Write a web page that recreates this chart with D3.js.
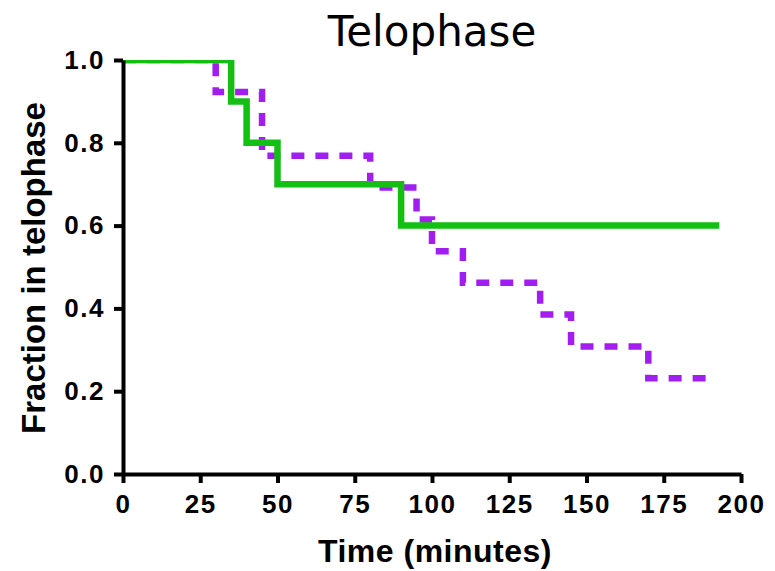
<!DOCTYPE html>
<html>
<head>
<meta charset="utf-8">
<script src="https://cdn.jsdelivr.net/npm/d3@7"></script>
<style>
  body { margin: 0; background: #fff; }
  .axis path, .axis line { stroke: #000; stroke-width: 4; }
  .axis text { font-family: "Liberation Sans", Arial, sans-serif; font-weight: bold; font-size: 26px; letter-spacing: 1.5px; fill: #000; }
  .axis-label { font-family: "Liberation Sans", Arial, sans-serif; font-weight: bold; fill: #000; }
</style>
</head>
<body>
<div id="root"></div>
<script>
"use strict";

// Kaplan-Meier style step data
const greenTimes = [0, 35, 40, 50, 90, 193];
const greenFrac = [1.0, 0.9, 0.8, 0.7, 0.6, 0.6];

const purpleTimes = [0, 30, 45, 80, 95, 100, 110, 135, 145, 170, 191.5];
const purpleFrac = [1.0, 0.923, 0.769, 0.692, 0.615, 0.538, 0.462, 0.385, 0.308, 0.231, 0.231];

const xTicks = [0, 25, 50, 75, 100, 125, 150, 175, 200];
const yTicks = [0.0, 0.2, 0.4, 0.6, 0.8, 1.0];

const width = 775;
const height = 571;
const margin = { top: 60, right: 34, bottom: 97, left: 123 };

let drawWidth = width - margin.left - margin.right;
let drawHeight = height - margin.top - margin.bottom;

let svg = d3.select('#root')
    .append('svg')
    .attr('width', width)
    .attr('height', height);

let xScale = d3.scaleLinear().domain([0, 200]).range([0, drawWidth]);
let yScale = d3.scaleLinear().domain([0, 1]).range([drawHeight, 0]);

let chartG = svg.append('g')
    .attr('transform', `translate(${margin.left},${margin.top})`);

// clip lines to plot area (top line only shows half of its width)
svg.append('defs').append('clipPath')
    .attr('id', 'plotClip')
    .append('rect')
    .attr('x', 0).attr('y', 0)
    .attr('width', drawWidth + 20).attr('height', drawHeight);

let line = d3.line()
    .x((d) => xScale(d[0]))
    .y((d) => yScale(d[1]))
    .curve(d3.curveStepAfter);

let linesG = chartG.append('g').attr('clip-path', 'url(#plotClip)');

linesG.append('path')
    .datum(purpleTimes.map((t, i) => [t, purpleFrac[i]]))
    .attr('d', line)
    .attr('fill', 'none')
    .attr('stroke', '#a01ff0')
    .attr('stroke-width', 6.5)
    .attr('stroke-dasharray', '13,11');

linesG.append('path')
    .datum(greenTimes.map((t, i) => [t, greenFrac[i]]))
    .attr('d', line)
    .attr('fill', 'none')
    .attr('stroke', '#14bf14')
    .attr('stroke-width', 6.5);

// axes
let xAxis = d3.axisBottom(xScale).tickValues(xTicks).tickSize(9).tickSizeOuter(0).tickPadding(12);
let yAxis = d3.axisLeft(yScale).tickValues(yTicks).tickFormat(d3.format('.1f')).tickSize(9).tickSizeOuter(0).tickPadding(9);

chartG.append('g')
    .attr('class', 'axis')
    .attr('transform', `translate(0,${drawHeight})`)
    .call(xAxis);

chartG.append('g')
    .attr('class', 'axis')
    .call(yAxis);

// title and labels
svg.append('text')
    .attr('x', 432)
    .attr('y', 46)
    .attr('text-anchor', 'middle')
    .style('font-family', '"DejaVu Sans", Verdana, sans-serif')
    .style('font-size', '42px')
    .text('Telophase');

svg.append('text')
    .attr('class', 'axis-label')
    .attr('x', 435)
    .attr('y', 562)
    .attr('text-anchor', 'middle')
    .style('font-size', '32px')
    .style('letter-spacing', '0.5px')
    .text('Time (minutes)');

svg.append('text')
    .attr('class', 'axis-label')
    .attr('transform', 'translate(45,268) rotate(-90)')
    .attr('text-anchor', 'middle')
    .style('font-size', '33px')
    .text('Fraction in telophase');
</script>
</body>
</html>
